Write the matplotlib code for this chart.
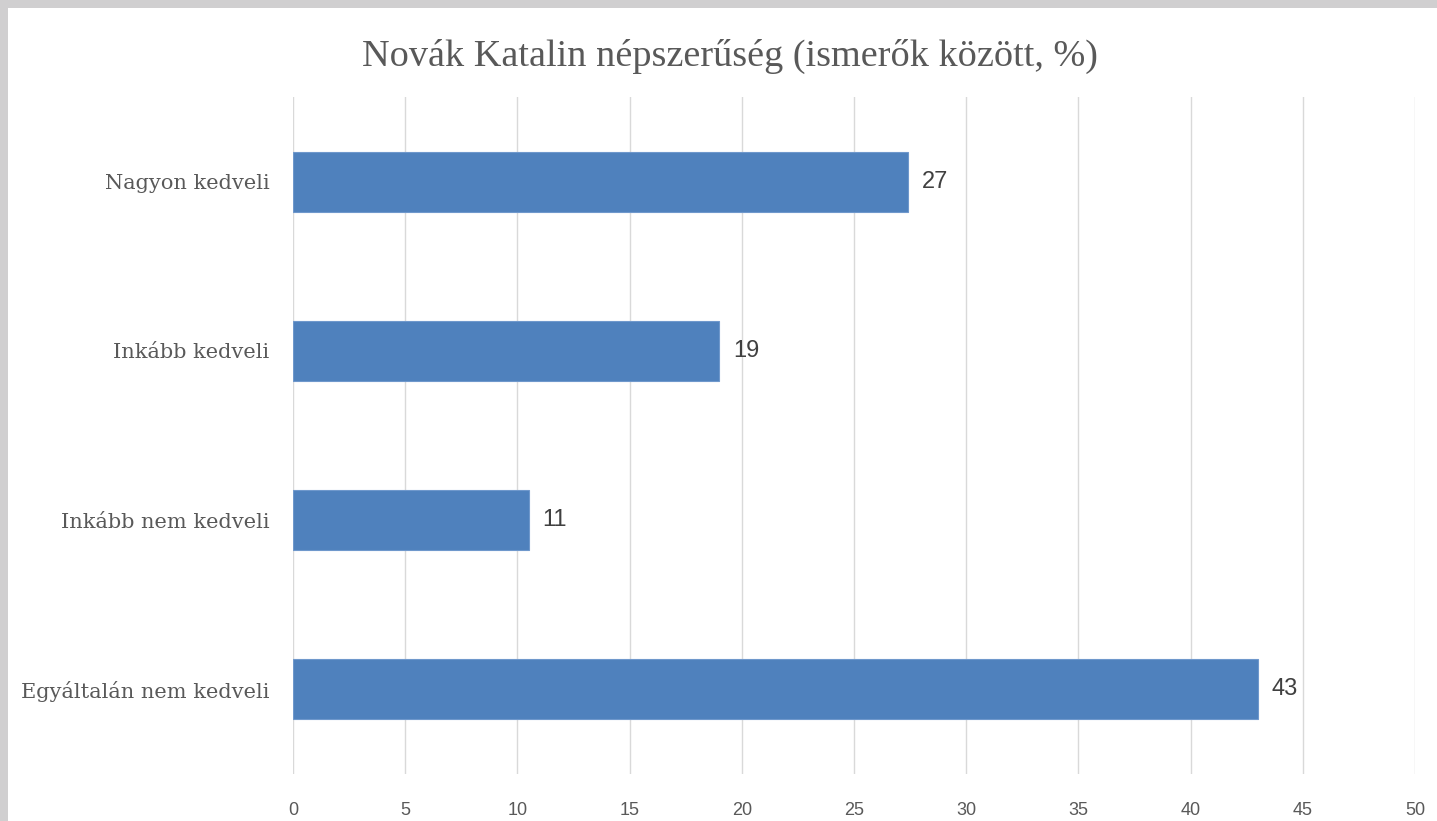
import matplotlib.pyplot as plt
from matplotlib.patches import Rectangle

categories = ["Nagyon kedveli", "Inkább kedveli", "Inkább nem kedveli", "Egyáltalán nem kedveli"]
values = [27.4, 19.0, 10.5, 43.0]
value_labels = ["27", "19", "11", "43"]
xticks = [0, 5, 10, 15, 20, 25, 30, 35, 40, 45, 50]

fig = plt.figure(figsize=(14.37, 8.21), dpi=100)
fig.patch.set_facecolor("#d0cfd0")
fig.patches.append(Rectangle((8 / 1437, 0), 1, 1 - 8 / 821, transform=fig.transFigure,
                             facecolor="white", edgecolor="none", zorder=-1))

ax = fig.add_axes([293 / 1437, 1 - 774 / 821, 1122 / 1437, 677 / 821])
ax.set_facecolor("none")

pos = list(range(len(categories)))
ax.barh(pos, values, height=0.355, color="#4f81bd", edgecolor="#6f98cc", linewidth=0.8, zorder=3)
for p, v, lab in zip(pos, values, value_labels):
    ax.text(v + 0.62, p, lab, va="center", ha="left", fontsize=17,
            color="#404040", family="Liberation Sans")

ax.set_xlim(0, 50)
ax.set_ylim(3.5, -0.5)
ax.set_xticks(xticks)
ax.set_xticklabels([str(t) for t in xticks], fontsize=13, color="#595959", family="Liberation Sans")
ax.set_yticks(pos)
ax.set_yticklabels(categories, fontsize=15, color="#595959", family="DejaVu Serif")
ax.tick_params(axis="x", length=0, pad=20)
ax.tick_params(axis="y", length=0, pad=17)
ax.grid(axis="x", color="#d9d9d9", linewidth=1, zorder=0)
ax.set_axisbelow(True)
for s in ax.spines.values():
    s.set_visible(False)

fig.text(730 / 1437, 1 - 56 / 821, "Novák Katalin népszerűség (ismerők között, %)",
         ha="center", va="center", fontsize=27.5, color="#595959",
         family="Liberation Serif")

fig.savefig("out.png", dpi=100)
